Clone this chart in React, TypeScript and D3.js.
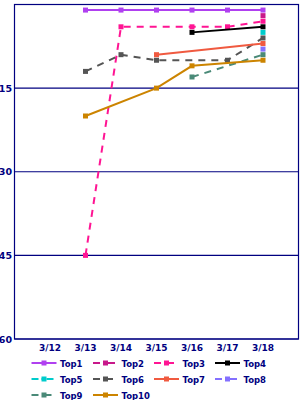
import React from 'react';
import * as d3 from 'd3';

const categories = ['3/12', '3/13', '3/14', '3/15', '3/16', '3/17', '3/18'];
const yTicks = [15, 30, 45, 60];

const seriesNames = ['Top1', 'Top2', 'Top3', 'Top4', 'Top5', 'Top6', 'Top7', 'Top8', 'Top9', 'Top10'];
const seriesColors = ['#b040f0', '#c8188a', '#ff1493', '#000000', '#00cccc', '#555555', '#f05a40', '#8470ff', '#4a8a78', '#cc8400'];
const seriesDash = ['', '7,3,2,3', '7,6', '', '7,3,2,3', '7,6', '', '7,3,2,3', '7,6', ''];

const top1 = [null, 1, 1, 1, 1, 1, 1];
const top2 = [null, null, null, null, null, null, 2];
const top3 = [null, 45, 4, null, 4, 4, 3];
const top4 = [null, null, null, null, 5, null, 4];
const top5 = [null, null, null, null, null, null, 5];
const top6 = [null, 12, 9, 10, null, 10, 6];
const top7 = [null, null, null, 9, null, null, 7];
const top8 = [null, null, null, null, null, null, 8];
const top9 = [null, null, null, null, 13, null, 9];
const top10 = [null, 20, null, 15, 11, null, 10];

const seriesValues: (number | null)[][] = [top1, top2, top3, top4, top5, top6, top7, top8, top9, top10];

const navy = '#000080';
const font = 'DejaVu Sans, sans-serif';

export default function App() {
  const left = 14.5, right = 298.5, top = 4.5, bottom = 339;
  const x = d3.scaleLinear().domain([-1, categories.length]).range([left, right]);
  const y = d3.scaleLinear().domain([0, 60]).range([top, bottom]);

  const line = d3.line<[number, number]>()
    .x(d => x(d[0]))
    .y(d => y(d[1]));

  const legendCols = [31.5, 93, 154, 215];
  const legendRows = [363, 379, 395];

  return (
    <svg width={300} height={400} style={{ position: 'absolute', left: 0, top: 0 }}>
      <rect x={0} y={0} width={300} height={400} fill="#fff" />
      <rect x={left} y={top} width={right - left} height={bottom - top} fill="none" stroke={navy} strokeWidth={1.2} />
      {yTicks.map(t => (
        <g key={t}>
          <line x1={left} x2={right} y1={y(t)} y2={y(t)} stroke={navy} strokeWidth={1.2} />
          <text x={12} y={y(t) + 3.5} textAnchor="end" fontSize={9.5} fontFamily={font} fontWeight="bold" fill={navy}>{t}</text>
        </g>
      ))}
      {categories.map((c, i) => (
        <text key={c} x={x(i)} y={350.5} textAnchor="middle" fontSize={9} fontFamily={font} fontWeight="bold" fill={navy}>{c}</text>
      ))}
      {seriesValues.map((vals, s) => {
        const pts = vals.map((v, i) => [i, v] as [number, number | null])
          .filter(p => p[1] !== null) as [number, number][];
        return (
          <g key={s}>
            {pts.length > 1 && (
              <path d={line(pts) || ''} fill="none" stroke={seriesColors[s]} strokeWidth={2}
                strokeDasharray={seriesDash[s] || undefined} />
            )}
            {pts.map(p => (
              <rect key={p[0]} x={x(p[0]) - 2.5} y={y(p[1]) - 2.5} width={5} height={5} fill={seriesColors[s]} />
            ))}
          </g>
        );
      })}
      {seriesNames.map((n, s) => {
        const lx = legendCols[s % 4];
        const ly = legendRows[Math.floor(s / 4)];
        return (
          <g key={n}>
            <line x1={lx} x2={lx + 25} y1={ly} y2={ly} stroke={seriesColors[s]} strokeWidth={2}
              strokeDasharray={seriesDash[s] || undefined} />
            <rect x={lx + 10} y={ly - 2.5} width={5} height={5} fill={seriesColors[s]} />
            <text x={lx + 28.5} y={ly + 3.5} fontSize={8.5} fontFamily={font} fontWeight="bold" fill={navy}>{n}</text>
          </g>
        );
      })}
    </svg>
  );
}
